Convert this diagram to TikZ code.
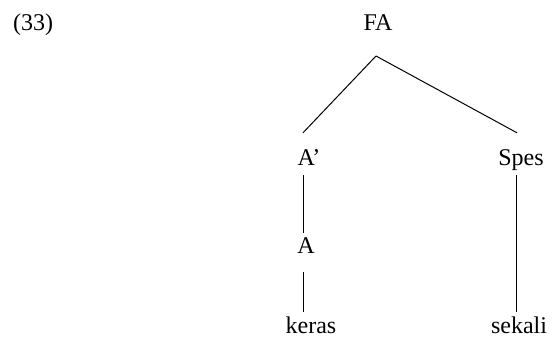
\documentclass[tikz,border=0pt]{standalone}
\usepackage{fontspec}
\setmainfont{Liberation Serif}
\tikzset{
  cat/.style={anchor=base, inner sep=0pt, text height=16pt, text depth=0pt, font=\fontsize{24}{28}\selectfont},
  branch/.style={line width=1pt}
}
\begin{document}
\begin{tikzpicture}[x=1pt,y=-1pt]
        \useasboundingbox (0,0) rectangle (556,345);
        \node[cat,anchor=base west] (num) at (13,31) {(33)};
        \node[cat] (fa) at (378,31) {FA};
        \coordinate (top) at (376,56);
        \node[cat] (abar) at (309,165) {A’};
        \node[cat] (spes) at (521,165) {Spes};
        \node[cat] (a) at (306,253) {A};
        \node[cat] (keras) at (311,333) {keras};
        \node[cat] (sekali) at (519,333) {sekali};
        \draw[branch] (top) -- ([xshift=-6pt,yshift=16pt]abar.north);
        \draw[branch] (top) -- ([xshift=-4pt,yshift=16pt]spes.north);
        \draw[branch] ([xshift=-6pt,yshift=-10pt]abar.south) -- ([xshift=-3pt,yshift=4pt]a.north);
        \draw[branch] ([xshift=-3pt,yshift=-19pt]a.south) -- ([xshift=-8pt,yshift=5pt]keras.north);
        \draw[branch] ([xshift=-5pt,yshift=-10pt]spes.south) -- ([xshift=-3pt,yshift=5pt]sekali.north);
    \end{tikzpicture}
\end{document}
